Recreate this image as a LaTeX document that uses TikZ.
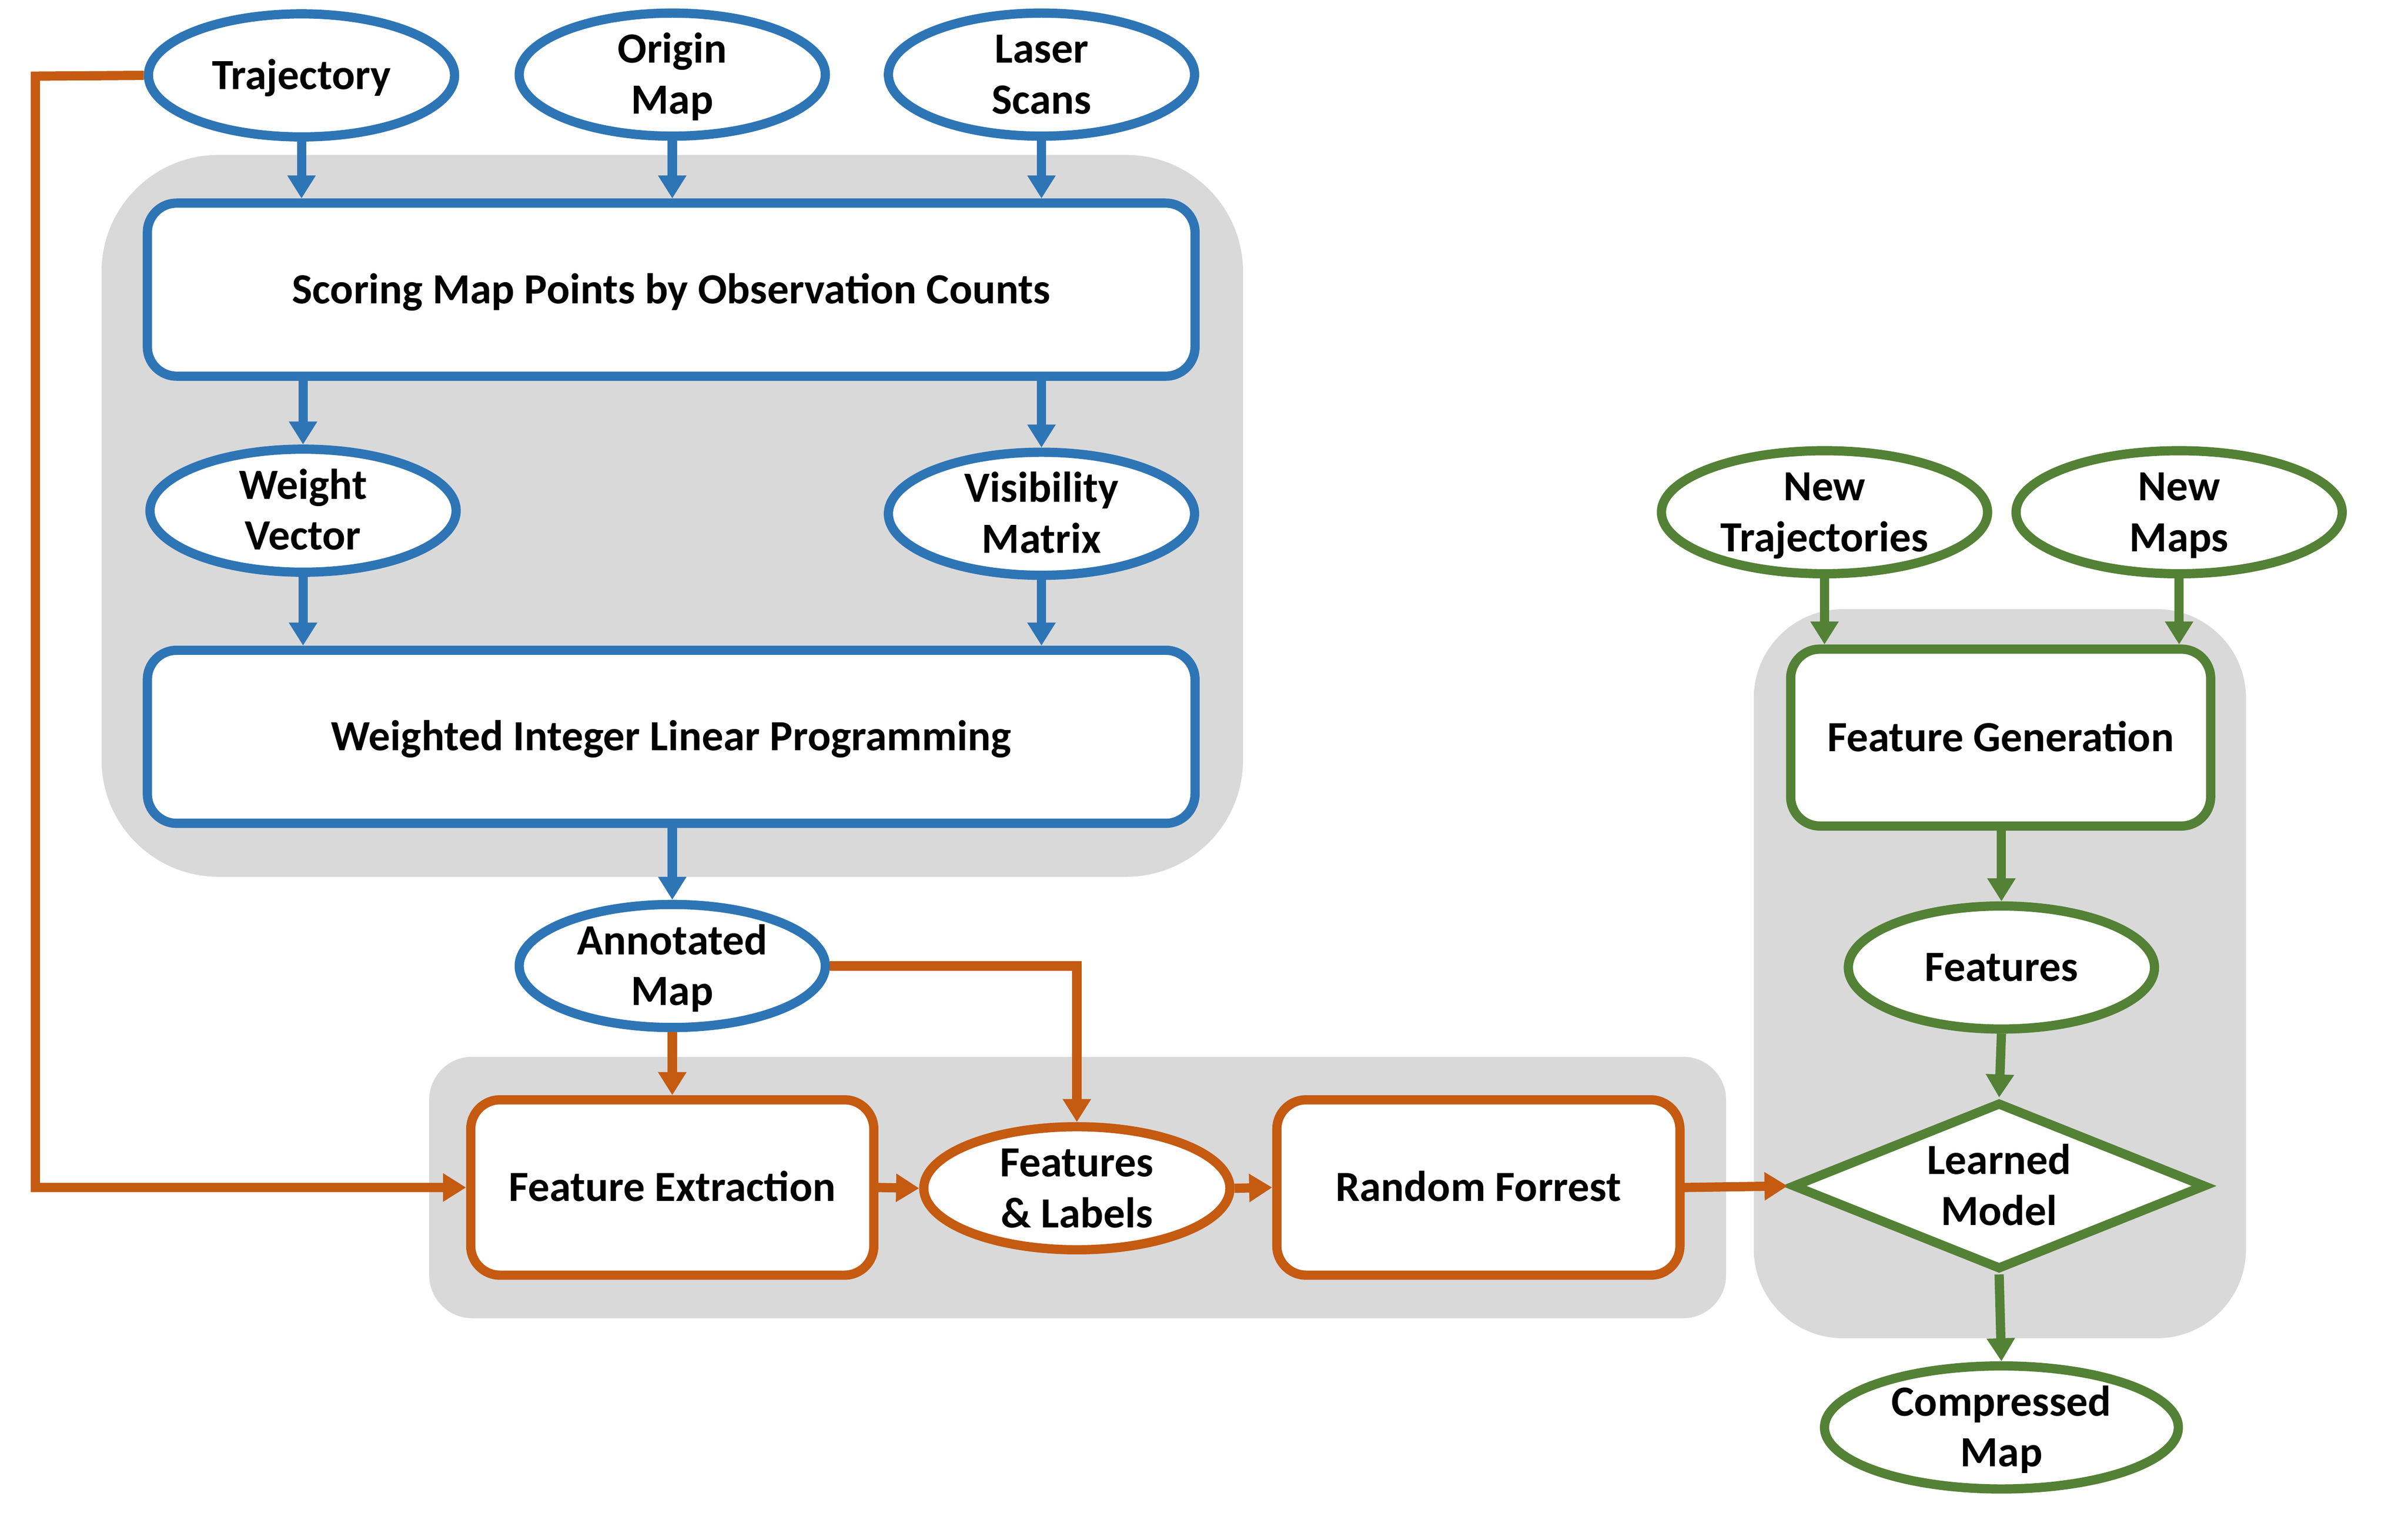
\documentclass[tikz,border=0pt]{standalone}
\usepackage{fontspec}
\setmainfont{Carlito}
\usetikzlibrary{shapes.geometric,arrows.meta}
\definecolor{cblue}{HTML}{2E75B6}
\definecolor{corange}{HTML}{C55A11}
\definecolor{cgreen}{HTML}{538135}
\definecolor{cgray}{HTML}{D9D9D9}
\begin{document}
\begin{tikzpicture}[x=1pt,y=-1pt,
  every node/.style={font=\fontsize{28}{33}\selectfont\bfseries, align=center, inner sep=0pt, text height=18pt, text depth=0pt},
  twoline/.style={text height=51pt, text depth=0pt},
  ell/.style={ellipse, draw, line width=6pt, fill=white, minimum width=199pt, minimum height=80pt, inner ysep=-12pt},
  box/.style={rectangle, rounded corners=19pt, draw, line width=6pt, fill=white},
  bg/.style={fill=cgray, draw=none},
  arr/.style={line width=6pt, -{Triangle[width=17.5pt,length=15pt]}},
]
\useasboundingbox (0,0) rectangle (1565.3,983.4);
% gray groups
\fill[bg, rounded corners=76pt] (66,100.7) rectangle (808,570);
\fill[bg, rounded corners=28pt] (279,687) rectangle (1122,857);
\fill[bg, rounded corners=58pt] (1140,396) rectangle (1460,870);
% nodes
\node[ell, draw=cblue] (traj) at (196,49) {Trajectory};
\node[ell, draw=cblue, twoline] (orig) at (437,48.5) {Origin\\Map};
\node[ell, draw=cblue, twoline] (laser) at (677,48.5) {Laser\\Scans};
\node[box, draw=cblue, minimum width=681pt, minimum height=112.5pt] (score) at (436.3,188.3) {Scoring Map Points by Observation Counts};
\node[ell, draw=cblue, twoline] (wv) at (197,332) {Weight\\Vector};
\node[ell, draw=cblue, twoline] (vm) at (677,334) {Visibility\\Matrix};
\node[box, draw=cblue, minimum width=681pt, minimum height=112.5pt] (wilp) at (436.3,479) {Weighted Integer Linear Programming};
\node[ell, draw=cblue, twoline] (ann) at (437,628) {Annotated\\Map};
\node[box, draw=corange, minimum width=262pt, minimum height=114pt] (fe) at (437,772) {Feature Extraction};
\node[ell, draw=corange, twoline] (fl) at (700,772.5) {Features\\\& Labels};
\node[box, draw=corange, minimum width=262pt, minimum height=114pt] (rf) at (961,772) {Random Forrest};
\node[ell, draw=cgreen, twoline, minimum width=212pt] (nt) at (1186,333) {New\\Trajectories};
\node[ell, draw=cgreen, twoline, minimum width=212pt] (nm) at (1416.5,333) {New\\Maps};
\node[box, draw=cgreen, minimum width=273pt, minimum height=115pt] (fg) at (1300.5,479.5) {Feature Generation};
\node[ell, draw=cgreen] (feat) at (1301,629) {Features};
\node[diamond, aspect=2.47, draw=cgreen, twoline, line width=6pt, fill=white, minimum width=269pt, minimum height=109pt] (lm) at (1299.5,771) {Learned\\Model};
\node[ell, draw=cgreen, twoline, minimum width=230pt] (cm) at (1301,928) {Compressed\\Map};
\coordinate (c1) at (23,49.5);
% connectors
\draw[arr, cblue] (traj.south) -- (traj.south |- score.north);
\draw[arr, cblue] (orig.south) -- (orig.south |- score.north);
\draw[arr, cblue] (laser.south) -- (laser.south |- score.north);
\draw[arr, cblue] (wv.north |- score.south) -- (wv.north);
\draw[arr, cblue] (vm.north |- score.south) -- (vm.north);
\draw[arr, cblue] (wv.south) -- (wv.south |- wilp.north);
\draw[arr, cblue] (vm.south) -- (vm.south |- wilp.north);
\draw[arr, cblue] (ann.north |- wilp.south) -- (ann.north);
\draw[arr, corange] (ann.south) -- (ann.south |- fe.north);
\draw[arr, corange] (ann.east) -| (fl.north);
\draw[arr, corange] (traj.west) -- (c1) |- (fe.west);
\draw[arr, corange] (fe.east) -- (fl.west);
\draw[arr, corange] (fl.east) -- (rf.west);
\draw[arr, corange] (rf.east) -- (lm.west);
\draw[arr, cgreen] (nt.south) -- (nt.south |- fg.north);
\draw[arr, cgreen] (nm.south) -- (nm.south |- fg.north);
\draw[arr, cgreen] (feat.north |- fg.south) -- (feat.north);
\draw[arr, cgreen] (feat.south) -- (lm.north);
\draw[arr, cgreen] (lm.south) -- (cm.north);
\end{tikzpicture}
\end{document}
